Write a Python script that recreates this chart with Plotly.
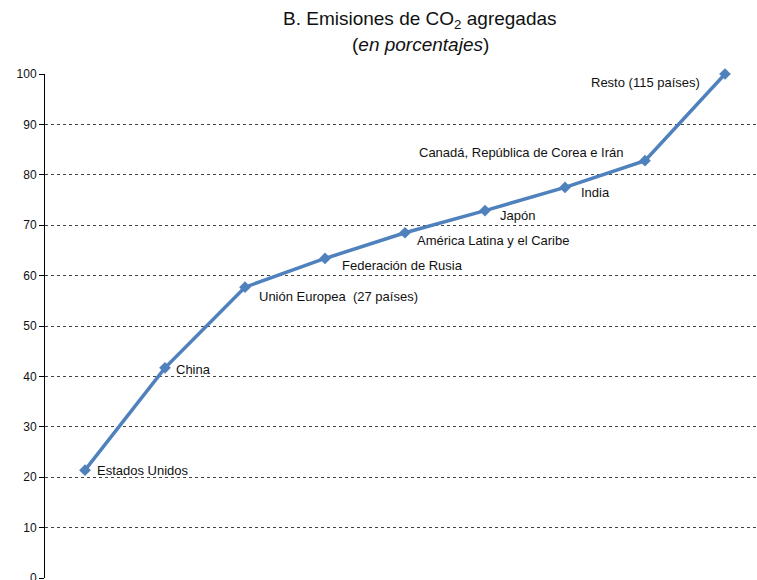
import plotly.graph_objects as go

# regions in cumulative order
regiones = [
    "Estados Unidos",
    "China",
    "Unión Europea  (27 países)",
    "Federación de Rusia",
    "América Latina y el Caribe",
    "Japón",
    "India",
    "Canadá, República de Corea e Irán",
    "Resto (115 países)",
]
acumulado = [21.4, 41.7, 57.7, 63.4, 68.5, 72.9, 77.5, 82.8, 100.0]
y_ticks = [0, 10, 20, 30, 40, 50, 60, 70, 80, 90, 100]

# label placement (pixels): x shift, y shift, anchor
label_dx = [10, 9, 12, 15, 10, 13, 14, -19, -23]
label_dy = [0, -2, -9, -7, -8, -5, -5, 8, -8]
label_anchor = ["left"] * 7 + ["right", "right"]

blue = "#4F81BD"
font = "Liberation Sans, Arial, sans-serif"
pos = list(range(len(regiones)))

fig = go.Figure()
fig.add_trace(go.Scatter(
    x=pos,
    y=acumulado,
    mode="lines+markers",
    line=dict(color=blue, width=3.5),
    marker=dict(symbol="diamond", size=9, color=blue),
    cliponaxis=False,
    hoverinfo="y",
))

for i, name in enumerate(regiones):
    fig.add_annotation(
        x=pos[i], y=acumulado[i], text=name,
        showarrow=False, xanchor=label_anchor[i], yanchor="middle",
        xshift=label_dx[i], yshift=label_dy[i],
        font=dict(size=13, color="#111", family=font),
    )

# title as two lines above the plot area
fig.add_annotation(
    xref="paper", yref="paper", x=0.527, y=1, yshift=54,
    xanchor="center", yanchor="middle", showarrow=False,
    text="B. Emisiones de CO<sub>2</sub> agregadas",
    font=dict(size=19, family=font, color="#111"),
)
fig.add_annotation(
    xref="paper", yref="paper", x=0.527, y=1, yshift=30,
    xanchor="center", yanchor="middle", showarrow=False,
    text="(<i>en porcentajes</i>)",
    font=dict(size=19, family=font, color="#111"),
)

fig.update_layout(
    width=757, height=580,
    margin=dict(l=45, r=0, t=74, b=2, autoexpand=False),
    plot_bgcolor="white", paper_bgcolor="white",
    showlegend=False,
    font=dict(family=font, color="#111"),
)
fig.update_xaxes(
    range=[-0.5, 8.4], showgrid=False, showticklabels=False,
    zeroline=False, showline=False, automargin=False,
)
fig.update_yaxes(
    range=[0, 100], tickvals=y_ticks, ticks="outside", ticklen=5,
    tickcolor="black", showline=True, linecolor="black", linewidth=1,
    showgrid=True, gridcolor="#444", griddash="3px,3px", gridwidth=1,
    zeroline=False, automargin=False, ticklabeloverflow="allow",
    tickfont=dict(size=12, family=font, color="#111"),
)

# drop the default page margin so the figure sits at the window corner
fig.write_html(
    "out.html",
    config={"displayModeBar": False},
    post_script="document.body.style.margin='0';document.body.style.overflow='hidden';",
)
